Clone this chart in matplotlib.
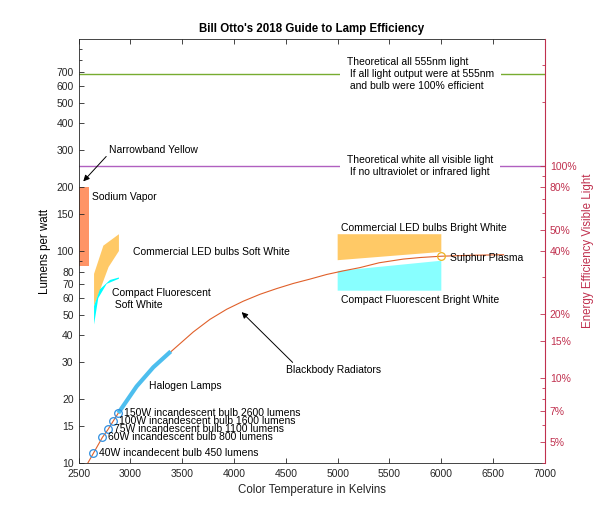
import matplotlib
matplotlib.use('Agg')
import matplotlib.pyplot as plt
from matplotlib.ticker import FixedLocator, NullFormatter, LogLocator
import numpy as np

plt.rcParams['font.family'] = ['Liberation Sans', 'DejaVu Sans']

# theoretical limits (lumens per watt)
limit_555 = 683
limit_white = 251

# blackbody radiator curve
bb_temp = [2590, 2643, 2730, 2785, 2836, 2884, 3061, 3222, 3415, 3607, 3768,
           3929, 4090, 4251, 4412, 4572, 4733, 4894, 5054, 5215, 5400, 5633,
           5800, 6000, 6300, 6600]
bb_eff = [10, 11.1, 13.2, 14.4, 15.8, 17.2, 23.0, 28.3, 34.3, 41.5, 47.6,
          53.1, 58.0, 62.5, 66.5, 70.3, 73.7, 77.5, 80.6, 83.5, 88.0, 91.6,
          93.2, 94.5, 95.5, 96]

# halogen section of the curve
halo_temp = [2884, 3061, 3222, 3390]
halo_eff = [17.2, 23.0, 28.3, 33.6]

# incandescent bulbs
inc_temp = [2643, 2730, 2785, 2836, 2884]
inc_eff = [11.1, 13.2, 14.4, 15.8, 17.2]
inc_labels = ['40W incandecent bulb 450 lumens',
              '60W incandescent bulb 800 lumens',
              '75W incandescent bulb 1100 lumens',
              '100W incandescent bulb 1600 lumens',
              '150W incandescent bulb 2600 lumens']

# sodium vapor band
sodium_temp = [2500, 2600]
sodium_eff = [85, 200]

# LED soft white outline
led_soft_temp = [2650, 2650, 2740, 2890, 2890, 2790, 2650]
led_soft_eff = [55, 78, 106, 120, 100, 84, 55]

# CFL soft white outline
cfl_soft_temp = [2650, 2707, 2804, 2890, 2890, 2772, 2691, 2650]
cfl_soft_eff = [55, 66, 73, 75, 74, 70, 60, 45]

# LED bright white outline
led_bright_temp = [5000, 6000, 6000, 5000]
led_bright_eff = [120, 120, 99, 90.5]

# CFL bright white outline
cfl_bright_temp = [5000, 6000, 6000, 5000]
cfl_bright_eff = [80.5, 90, 65, 65]

# sulphur plasma
sulphur_temp = 6000
sulphur_eff = 94.5

left_ticks = [10, 15, 20, 30, 40, 50, 60, 70, 80, 100, 150, 200, 300, 400, 500, 600, 700]
right_ticks = [5, 7, 10, 15, 20, 40, 50, 80, 100]

red = '#C0304E'
dark = '#262626'
fs = 7.5

fig = plt.figure(figsize=(6.02, 5.22), dpi=100)
ax = fig.add_axes([0.1304, 0.113, 0.7749, 0.8123])
ax.set_yscale('log')
ax.set_xlim(2500, 7000)
ax.set_ylim(10, 1000)

ax.axhline(limit_555, color='#77AC30', lw=1)
ax.axhline(limit_white, color='#B060C0', lw=1)

ax.fill_between(sodium_temp, sodium_eff[0], sodium_eff[1], color='#FF9466', lw=0)
ax.fill(led_soft_temp, led_soft_eff, color='#FFC966', lw=0)
ax.fill(cfl_soft_temp, cfl_soft_eff, color='#00FFFF', lw=0)
ax.fill(led_bright_temp, led_bright_eff, color='#FFC966', lw=0)
ax.fill(cfl_bright_temp, cfl_bright_eff, color='#88FFFF', lw=0)

ax.plot(bb_temp, bb_eff, color='#E0602A', lw=0.8)
ax.plot(halo_temp, halo_eff, color='#4DBEEE', lw=3, solid_capstyle='butt')
ax.plot(inc_temp, inc_eff, 'o', ms=5.5, mfc='none', mec='#2F8FE0', mew=0.9)
ax.plot([sulphur_temp], [sulphur_eff], 'o', ms=5.5, mfc='none', mec='#EDB120', mew=0.9)

for t, e, lab in zip(inc_temp, inc_eff, inc_labels):
    ax.annotate(lab, (t, e), xytext=(4.2, 0), textcoords='offset points',
                va='center', fontsize=fs)

ax.text(5087, limit_555, 'Theoretical all 555nm light\n If all light output were at 555nm\n and bulb were 100% efficient',
        fontsize=fs, va='center', ha='left', linespacing=1.25,
        bbox=dict(facecolor='white', edgecolor='none', pad=5))
ax.text(5087, limit_white, 'Theoretical white all visible light\n If no ultraviolet or infrared light',
        fontsize=fs, va='center', ha='left', linespacing=1.25,
        bbox=dict(facecolor='white', edgecolor='none', pad=5))

ax.annotate('Narrowband Yellow', xy=(2546, 213), xytext=(2794, 298),
            fontsize=fs, va='center', ha='left',
            arrowprops=dict(arrowstyle='-|>', color='k', lw=0.7, shrinkA=0, shrinkB=0,
                            mutation_scale=9, relpos=(0, 0.2)))
ax.text(2627, 179, 'Sodium Vapor', fontsize=fs, va='center')
ax.text(3029, 98.6, 'Commercial LED bulbs Soft White', fontsize=fs, va='center')
ax.text(2823, 59.2, 'Compact Fluorescent\n Soft White', fontsize=fs, va='center', linespacing=1.25)
ax.text(3183, 23.2, 'Halogen Lamps', fontsize=fs, va='center')
ax.annotate('Blackbody Radiators', xy=(4074, 51.5), xytext=(4501, 27.4),
            fontsize=fs, va='center', ha='left',
            arrowprops=dict(arrowstyle='-|>', color='k', lw=0.7, shrinkA=0, shrinkB=0,
                            mutation_scale=9, relpos=(0.1, 1)))
ax.text(5029, 129, 'Commercial LED bulbs Bright White', fontsize=fs, va='center')
ax.text(5029, 58.8, 'Compact Fluorescent Bright White', fontsize=fs, va='center')
ax.text(6083, 92.3, 'Sulphur Plasma', fontsize=fs, va='center')

ax.set_xticks(np.arange(2500, 7001, 500))
ax.yaxis.set_major_locator(FixedLocator(left_ticks))
ax.set_yticklabels([str(v) for v in left_ticks])
ax.yaxis.set_minor_locator(LogLocator(base=10, subs=np.arange(2, 10)))
ax.yaxis.set_minor_formatter(NullFormatter())
ax.tick_params(axis='both', which='both', direction='in', colors=dark,
               labelsize=fs, top=True, right=False, width=0.6)
ax.tick_params(which='major', length=3.5)
ax.tick_params(which='minor', length=2)
ax.tick_params(axis='x', pad=4)
for s in ['left', 'bottom', 'top']:
    ax.spines[s].set_color(dark)
    ax.spines[s].set_linewidth(0.6)
ax.spines['right'].set_visible(False)

ax.set_xlabel('Color Temperature in Kelvins', fontsize=8.3, color=dark)
ax.set_ylabel('Lumens per watt', fontsize=8.3, color='black')
ax.set_title("Bill Otto's 2018 Guide to Lamp Efficiency", fontsize=8.3,
             fontweight='bold', pad=5)

ax2 = ax.twinx()
ax2.set_yscale('log')
ax2.set_ylim(10 / limit_white * 100, 1000 / limit_white * 100)
ax2.yaxis.set_major_locator(FixedLocator(right_ticks))
ax2.set_yticklabels([str(v) + '%' for v in right_ticks])
ax2.yaxis.set_minor_locator(LogLocator(base=10, subs=np.arange(2, 10)))
ax2.yaxis.set_minor_formatter(NullFormatter())
ax2.tick_params(axis='y', which='both', direction='in', colors=red, labelsize=fs, width=0.6)
ax2.tick_params(which='major', length=3.5)
ax2.tick_params(which='minor', length=2)
for s in ['left', 'bottom', 'top']:
    ax2.spines[s].set_visible(False)
ax2.spines['right'].set_color(red)
ax2.spines['right'].set_linewidth(0.8)
ax2.set_ylabel('Energy Efficiency Visible Light', fontsize=8.3, color=red)

fig.savefig('out.png', dpi=100)
